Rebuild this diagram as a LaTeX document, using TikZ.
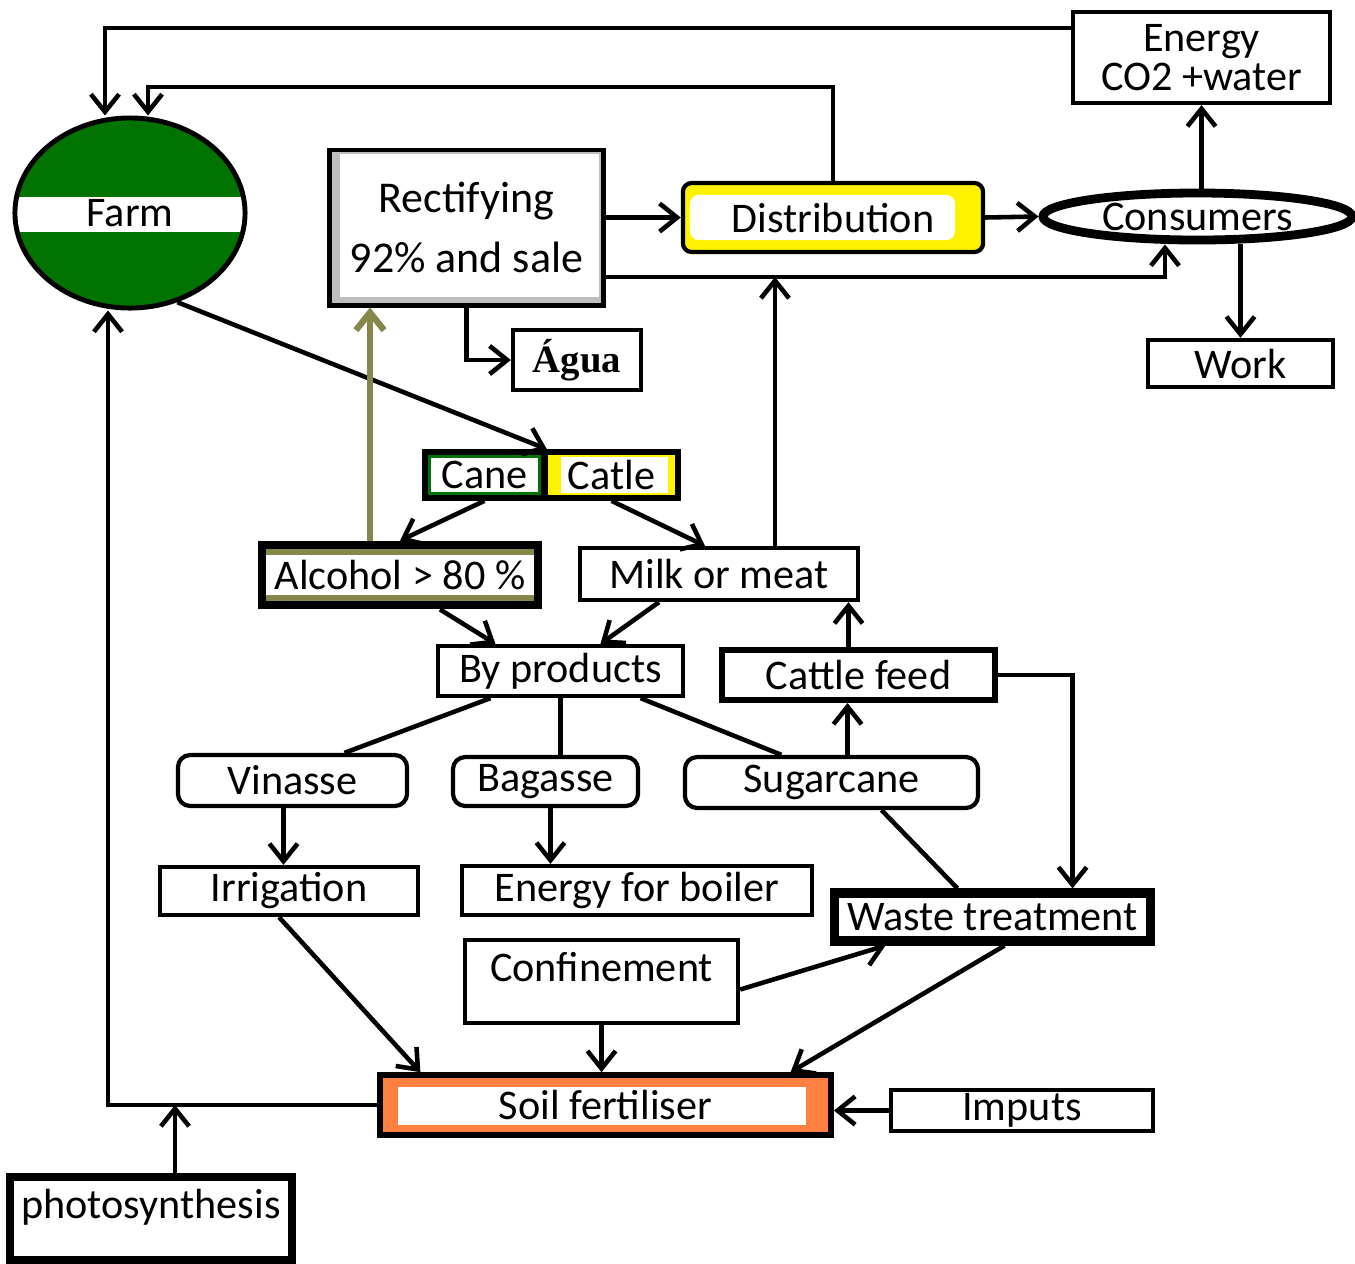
\documentclass[tikz,border=0pt]{standalone}
\usepackage{fontspec}
\setmainfont{Carlito}
\newfontfamily\aguafont{Liberation Serif}
\usepackage{xcolor}
\usepackage{tikz}
\usetikzlibrary{arrows.meta,positioning,shapes.geometric,calc}

\definecolor{farmgreen}{RGB}{0,115,0}
\definecolor{olivebar}{RGB}{135,135,75}
\definecolor{soilorange}{RGB}{255,128,64}
\definecolor{rectgray}{RGB}{190,190,190}

\begin{document}
\begin{tikzpicture}[
    x=0.01cm, y=-0.01cm,
    font=\fontsize{12}{14}\selectfont,
    box/.style={draw, line width=1.2pt, rectangle, inner sep=0pt, align=center},
    roundbox/.style={box, rounded corners=3.5pt},
    inset/.style n args={4}{path picture={\fill[white] ([shift={(#1,#2)}]path picture bounding box.south west) rectangle ([shift={(-#3,-#4)}]path picture bounding box.north east);}},
    arrow/.style={-{Straight Barb[length=5pt,width=8pt]}, line width=1.3pt},
    link/.style={line width=1.3pt}
  ]
  \useasboundingbox (0,0) rectangle (1355,1263);

  \node[ellipse, draw, line width=1.4pt, fill=farmgreen, minimum width=2.3cm, minimum height=1.9cm, inner sep=0pt,
    path picture={\fill[white] ([yshift=-0.19cm]path picture bounding box.west) rectangle ([yshift=0.16cm]path picture bounding box.east);}] (farm) at (130,213) {Farm};
  \node[box, line width=1.4pt, fill=rectgray, inset={0.1cm}{0.08cm}{0.04cm}{0.04cm}, minimum width=2.73cm, minimum height=1.55cm,
    font=\fontsize{12.5}{17}\selectfont] (rect) at (466.5,227.5) {Rectifying\\92\% and sale};
  \node[roundbox, rounded corners=2.5pt, fill=yellow, inset={0.07cm}{0.12cm}{0.28cm}{0.12cm}, minimum width=3cm, minimum height=0.69cm] (distrib) at (833,217.5) {Distribution};
  \node[ellipse, draw, line width=2.5pt, fill=white, minimum width=3.09cm, minimum height=0.47cm, inner sep=0pt] (consum) at (1197.5,216.5) {Consumers};
  \node[box, minimum width=2.57cm, minimum height=0.91cm, font=\fontsize{12}{11}\selectfont] (energy) at (1201.5,57.5) {Energy\\CO2 +water};
  \node[box, minimum width=1.85cm, minimum height=0.47cm] (work) at (1240.5,363.5) {Work};
  \node[box, minimum width=1.28cm, minimum height=0.6cm, font=\fontsize{11}{13}\aguafont\bfseries] (agua) at (577,360) {Água};

  \node[box, line width=1.6pt, fill=farmgreen, inset={0.06cm}{0.06cm}{0.06cm}{0.06cm}, minimum width=1.19cm, minimum height=0.46cm] (cane) at (484.5,475) {Cane};
  \node[box, line width=1.6pt, fill=yellow, inset={0.16cm}{0.05cm}{0.1cm}{0.05cm}, minimum width=1.33cm, minimum height=0.46cm] (catle) at (611.5,475) {Catle};
  \node[box, line width=2.5pt, fill=olivebar, inset={0cm}{0.1cm}{0cm}{0.1cm}, minimum width=2.76cm, minimum height=0.6cm] (alcohol) at (400,575) {Alcohol > 80 \%};
  \node[box, minimum width=2.78cm, minimum height=0.52cm] (milk) at (719,574) {Milk or meat};
  \node[box, minimum width=2.45cm, minimum height=0.5cm] (byprod) at (560.5,671) {By products};
  \node[box, line width=1.7pt, minimum width=2.73cm, minimum height=0.5cm] (cattle) at (858.5,675) {Cattle feed};

  \node[roundbox, minimum width=2.29cm, minimum height=0.51cm] (vinasse) at (292.5,780.5) {Vinasse};
  \node[roundbox, minimum width=1.85cm, minimum height=0.49cm] (bagasse) at (545.5,781.5) {Bagasse};
  \node[roundbox, minimum width=2.93cm, minimum height=0.51cm] (sugar) at (831.5,782.5) {Sugarcane};
  \node[box, minimum width=2.58cm, minimum height=0.48cm] (irrig) at (289,891) {Irrigation};
  \node[box, minimum width=3.5cm, minimum height=0.49cm] (boiler) at (637,890.5) {Energy for boiler};
  \node[box, line width=2.6pt, minimum width=3.15cm, minimum height=0.48cm] (waste) at (992.5,917) {Waste treatment};
  \node[box, minimum width=2.73cm, minimum height=0.83cm, text height=0.3cm, text depth=0.3cm] (conf) at (601.5,981.5) {Confinement};
  \node[box, line width=1.6pt, fill=soilorange, inset={0.18cm}{0.1cm}{0.25cm}{0.12cm}, minimum width=4.51cm, minimum height=0.6cm] (soil) at (605.5,1105) {Soil fertiliser};
  \node[box, minimum width=2.62cm, minimum height=0.41cm] (imputs) at (1022,1110.5) {Imputs};
  \node[box, line width=2.2pt, minimum width=2.82cm, minimum height=0.83cm, text height=0.3cm, text depth=0.3cm] (photo) at (151,1218.5) {photosynthesis};

  \coordinate (ltop) at (105,28);
  \coordinate (mtop) at (148,87);
  \coordinate (rsale) at (1165,277);
  \coordinate (milkup) at (775,277);

  \draw[arrow] (energy.west |- ltop) -| (ltop |- farm.north);
  \draw[arrow] (distrib.north) |- (mtop) -- (mtop |- farm.north);
  \draw[arrow] (rect.east |- distrib) -- (distrib);
  \draw[arrow] (rsale -| rect.east) -| (rsale |- consum.south);
  \draw[arrow] (distrib.east) -- (consum.west);
  \draw[arrow] (energy.south |- consum.north) -- (energy.south);
  \draw[arrow] (work.north |- consum.south) -- (work.north);
  \draw[arrow] (rect.south) |- (agua.west);

  \draw[arrow] (farm.-62) -- (cane.north east);
  \draw[arrow, draw=olivebar, line width=1.8pt] ([xshift=-0.3cm]alcohol.north) -- ([xshift=-0.3cm]alcohol.north |- rect.south);
  \draw[arrow] (cane.south) -- (alcohol.north);
  \draw[arrow] (catle.south) -- ([xshift=-0.14cm]milk.north);
  \draw[arrow] (milk.north -| milkup) -- (milkup);
  \draw[arrow] ([xshift=0.4cm]alcohol.south) -- ([xshift=-0.65cm]byprod.north);
  \draw[arrow] ([xshift=-0.6cm]milk.south) -- ([xshift=0.4cm]byprod.north);
  \draw[arrow] ([xshift=-0.1cm]cattle.north) -- ([xshift=-0.1cm]cattle.north |- milk.south);
  \draw[arrow] (cattle.east) -| ([xshift=0.8cm]waste.north);

  \draw[link] ([xshift=-0.7cm]byprod.south) -- ([xshift=0.52cm]vinasse.north);
  \draw[link] (byprod.south) -- (byprod.south |- bagasse.north);
  \draw[link] ([xshift=0.8cm]byprod.south) -- ([xshift=-0.5cm]sugar.north);
  \draw[arrow] ([xshift=0.16cm]sugar.north) -- ([xshift=0.16cm]sugar.north |- cattle.south);
  \draw[arrow] ([xshift=-0.09cm]vinasse.south) -- ([xshift=-0.09cm]vinasse.south |- irrig.north);
  \draw[arrow] ([xshift=0.05cm]bagasse.south) -- ([xshift=0.05cm]bagasse.south |- boiler.north);
  \draw[link] ([xshift=0.5cm]sugar.south) -- ([xshift=-0.35cm]waste.north);

  \draw[arrow] ([xshift=-0.1cm]irrig.south) -- ([xshift=-1.85cm]soil.north);
  \draw[arrow] (conf.south) -- (conf.south |- soil.north);
  \draw[arrow] ([yshift=-0.08cm]conf.east) -- ([xshift=-1.07cm]waste.south);
  \draw[arrow] ([xshift=0.12cm]waste.south) -- ([xshift=1.85cm]soil.north);
  \draw[arrow] (imputs.west) -- (imputs.west -| soil.east);
  \draw[arrow] (soil.west) -| ([xshift=-0.22cm]farm.south);
  \draw[arrow] ([xshift=0.24cm]photo.north) -- ([xshift=0.24cm]photo.north |- soil.west);
\end{tikzpicture}
\end{document}
